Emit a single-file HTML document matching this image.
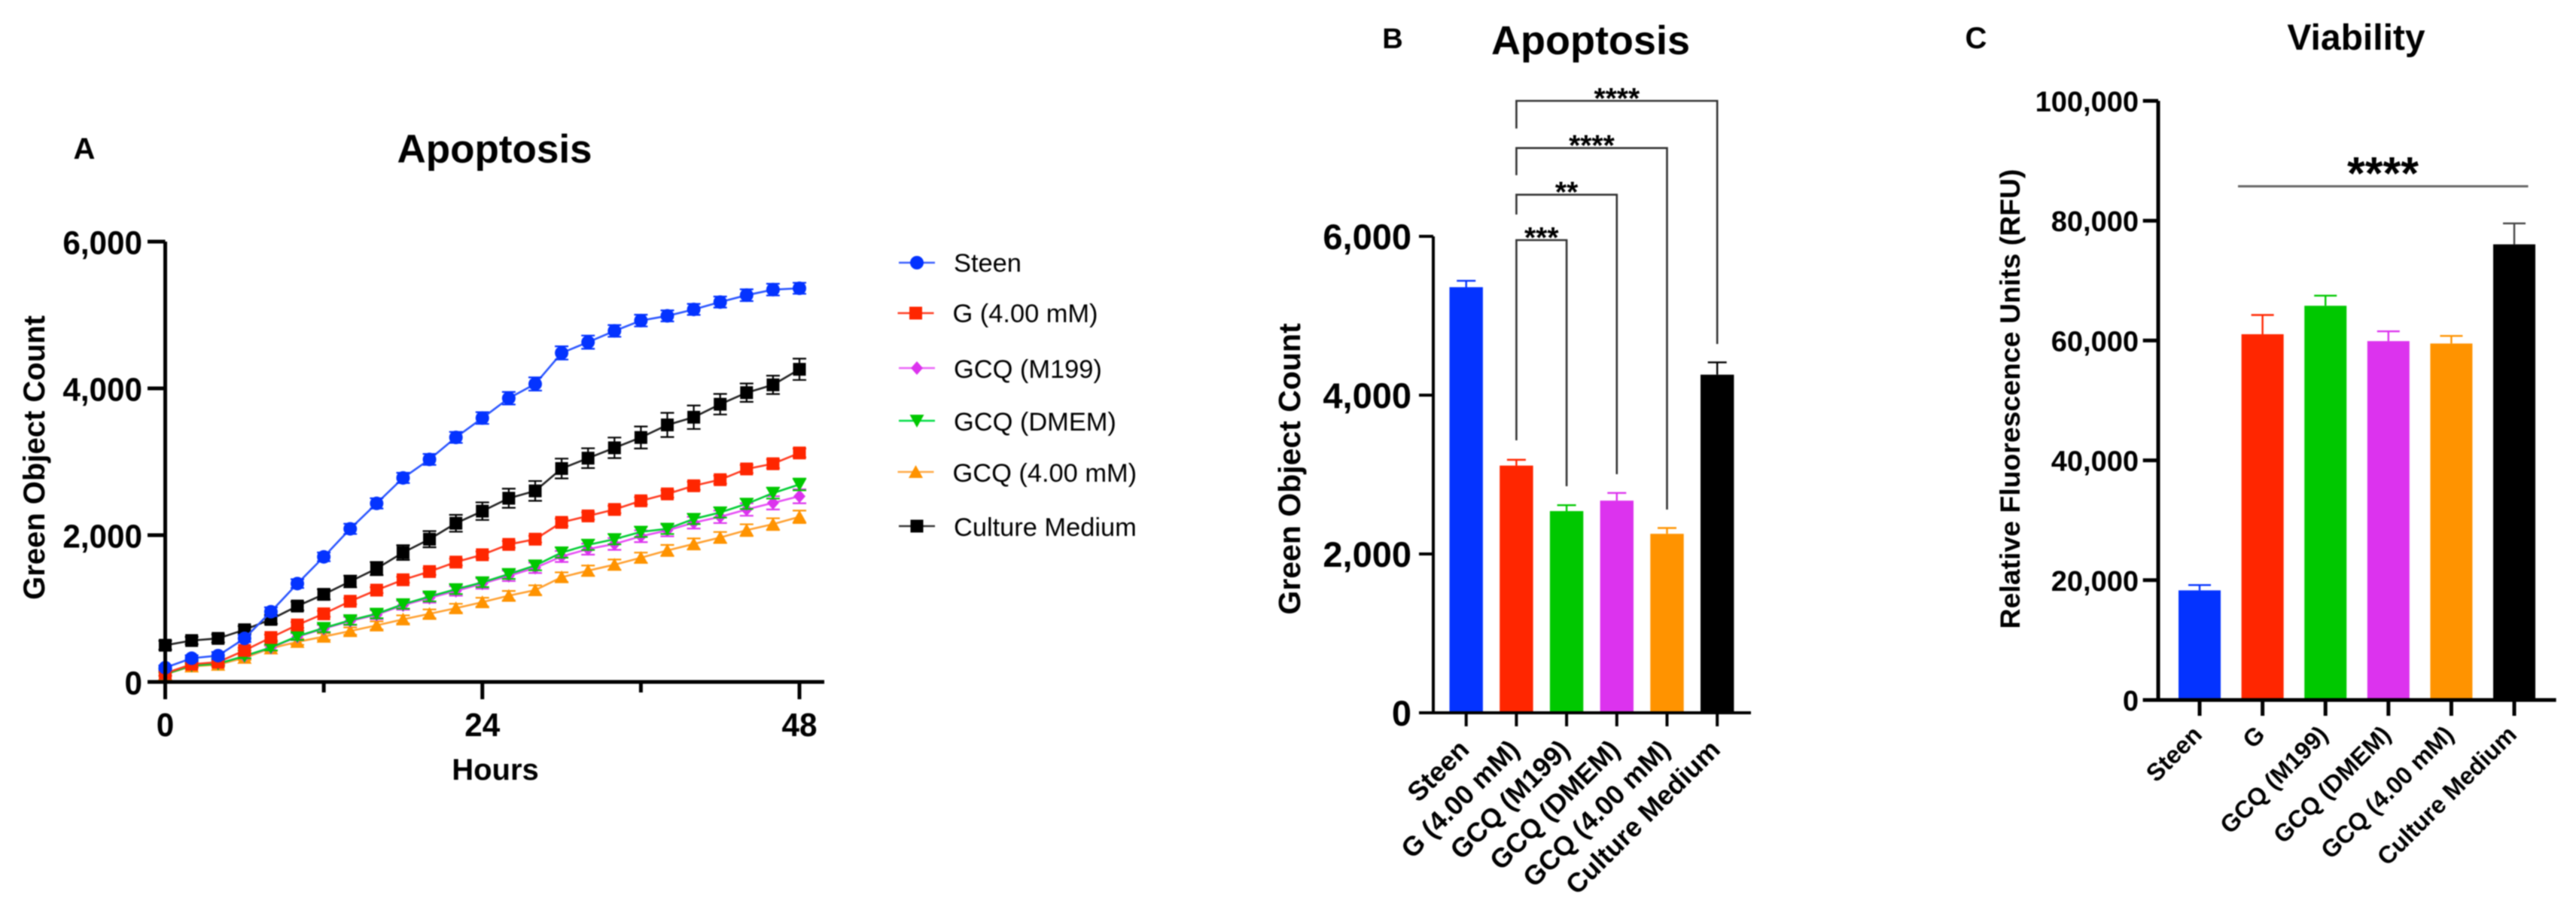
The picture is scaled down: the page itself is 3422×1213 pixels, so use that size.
<!DOCTYPE html>
<html lang="en">
<head>
<meta charset="utf-8">
<title>Apoptosis and Viability Charts</title>
<style>
html,body{margin:0;padding:0;background:#fff;width:3422px;height:1213px;overflow:hidden}
svg{display:block;filter:blur(0.7px)}
text{font-family:"Liberation Sans",Arial,sans-serif;fill:#000}
.b{font-weight:bold}
</style>
</head>
<body>
<svg id="fig" xmlns="http://www.w3.org/2000/svg" width="3422" height="1213" viewBox="0 0 3422 1213">
<rect x="0" y="0" width="3422" height="1213" fill="#fff"/>
<text class="b" x="112" y="211" font-size="40" text-anchor="middle">A</text>
<text class="b" x="657" y="216" font-size="53" text-anchor="middle">Apoptosis</text>
<text class="b" font-size="40" text-anchor="middle" transform="translate(59,608) rotate(-90)">Green Object Count</text>
<text class="b" x="658" y="1036" font-size="40" text-anchor="middle">Hours</text>
<text class="b" x="1850" y="64" font-size="38" text-anchor="middle">B</text>
<text class="b" x="2113" y="72" font-size="54" text-anchor="middle">Apoptosis</text>
<text class="b" font-size="41" text-anchor="middle" transform="translate(1727,623) rotate(-90)">Green Object Count</text>
<text class="b" x="2625" y="64" font-size="40" text-anchor="middle">C</text>
<text class="b" x="3130" y="66" font-size="48" text-anchor="middle">Viability</text>
<text class="b" font-size="37.4" text-anchor="middle" transform="translate(2683,530) rotate(-90)">Relative Fluorescence Units (RFU)</text>
<g id="panelA"></g>
<g id="legend"></g>
<g id="panelB"></g>
<g id="panelC"></g>
</svg>
<script>
// ---------- Panel A data (one reading every 2 hours, 0-48 h) ----------
const hoursA = [0,2,4,6,8,10,12,14,16,18,20,22,24,26,28,30,32,34,36,38,40,42,44,46,48];
const steenA = [194,323,358,593,957,1340,1704,2086,2433,2780,3032,3332,3596,3866,4060,4483,4630,4783,4924,4988,5076,5176,5270,5346,5364];
const steenErrA = [30,40,50,50,60,60,60,70,70,70,75,75,80,85,90,90,90,80,80,75,75,75,80,80,75];
const gA = [118,241,270,429,605,776,928,1099,1251,1392,1504,1633,1733,1874,1945,2174,2262,2350,2468,2562,2673,2756,2902,2973,3120];
const gErrA = [30,30,30,35,40,40,40,40,40,40,45,45,45,45,45,50,50,50,50,50,55,55,55,60,60];
const m199A = [110,225,250,350,465,615,725,830,915,1045,1145,1240,1340,1445,1555,1710,1810,1880,1985,2065,2170,2250,2350,2440,2530];
const m199ErrA = [20,25,25,30,35,45,50,55,60,60,65,65,70,70,70,75,75,80,80,80,80,85,85,90,95];
const dmemA = [106,223,247,353,470,623,734,840,928,1058,1163,1263,1357,1469,1586,1763,1868,1945,2045,2086,2221,2309,2427,2573,2691];
const dmemErrA = [25,25,25,30,40,50,55,60,60,60,65,65,65,65,65,70,70,70,70,70,70,70,70,75,80];
const mm4A = [106,212,235,329,458,546,617,693,770,852,928,1005,1087,1175,1251,1428,1516,1598,1692,1792,1880,1968,2068,2150,2250];
const mm4ErrA = [20,20,25,30,35,40,45,50,55,55,60,60,60,65,65,65,70,70,70,75,75,75,80,80,85];
const mediumA = [500,564,593,711,852,1034,1193,1369,1545,1763,1945,2162,2327,2503,2603,2908,3049,3190,3331,3502,3607,3784,3942,4048,4260];
const mediumErrA = [60,50,55,50,60,60,70,80,90,100,110,115,120,130,135,135,135,140,150,165,160,140,125,125,145];
const yTickLabelsA = ["0","2,000","4,000","6,000"];
const yTickValuesA = [0,2000,4000,6000];
const xMajorTicksA = [0,24,48];
const xMinorTicksA = [12,36];
const legendLabels = ["Steen","G (4.00 mM)","GCQ (M199)","GCQ (DMEM)","GCQ (4.00 mM)","Culture Medium"];

// ---------- Panel B data ----------
const categoriesB = ["Steen","G (4.00 mM)","GCQ (M199)","GCQ (DMEM)","GCQ (4.00 mM)","Culture Medium"];
const valuesB = [5360,3113,2540,2672,2254,4258];
const errorsB = [80,73,74,96,73,155];
const colorsB = ["#0433ff","#ff2600","#00c800","#dc33ee","#ff9300","#000000"];
const yTickValuesB = [0,2000,4000,6000];
const yTickLabelsB = ["0","2,000","4,000","6,000"];
const sigLabelsB = ["***","**","****","****"];
const sigTargetsB = [2,3,4,5];

// ---------- Panel C data ----------
const categoriesC = ["Steen","G","GCQ (M199)","GCQ (DMEM)","GCQ (4.00 mM)","Culture Medium"];
const valuesC = [18300,61050,65800,59900,59500,76050];
const errorsC = [880,3210,1680,1640,1260,3500];
const colorsC = ["#0433ff","#ff2600","#00c800","#dc33ee","#ff9300","#000000"];
const yTickValuesC = [0,20000,40000,60000,80000,100000];
const yTickLabelsC = ["0","20,000","40,000","60,000","80,000","100,000"];

const NS = "http://www.w3.org/2000/svg";
function add(parent, tag, attrs, txt){
  const el = document.createElementNS(NS, tag);
  for (const k in attrs) el.setAttribute(k, attrs[k]);
  if (txt !== undefined) el.textContent = txt;
  parent.appendChild(el);
  return el;
}
function markerShape(parent, kind, cx, cy, color){
  if (kind === "circle") return add(parent, "circle", {cx:cx, cy:cy, r:9, fill:color});
  if (kind === "square") return add(parent, "rect", {x:cx-8.5, y:cy-8.5, width:17, height:17, fill:color});
  if (kind === "diamond") return add(parent, "polygon", {points:[cx,cy-9,cx+8,cy,cx,cy+9,cx-8,cy].join(" "), fill:color});
  if (kind === "down") return add(parent, "polygon", {points:[cx-9.5,cy-8,cx+9.5,cy-8,cx,cy+9].join(" "), fill:color});
  return add(parent, "polygon", {points:[cx-9.5,cy+8,cx+9.5,cy+8,cx,cy-9].join(" "), fill:color});
}

// ---------- Panel A ----------
const gA_el = document.getElementById("panelA");
const xA = h => 219.5 + (h - 0) * (1062 - 219.5) / 48;
const yA = v => 906 - v * (906 - 321) / 6000;
const seriesA = [
  {name:"culture-medium", vals:mediumA, errs:mediumErrA, color:"#000000", line:"#222222", mark:"square"},
  {name:"gcq-4mm", vals:mm4A, errs:mm4ErrA, color:"#ff9300", line:"#ffa030", mark:"up"},
  {name:"gcq-m199", vals:m199A, errs:m199ErrA, color:"#dc33ee", line:"#e64df5", mark:"diamond"},
  {name:"gcq-dmem", vals:dmemA, errs:dmemErrA, color:"#00c800", line:"#00cc33", mark:"down"},
  {name:"g-4mm", vals:gA, errs:gErrA, color:"#ff2600", line:"#ff3b20", mark:"square"},
  {name:"steen", vals:steenA, errs:steenErrA, color:"#0433ff", line:"#2a55ff", mark:"circle"}
];
seriesA.forEach(function(s){
  const grp = add(gA_el, "g", {});
  
  
  const pts = hoursA.map((h,i) => xA(h).toFixed(1) + "," + yA(s.vals[i]).toFixed(1)).join(" ");
  const ln = add(grp, "polyline", {points:pts, fill:"none", stroke:s.line, "stroke-width":2.6});
  
  
  hoursA.forEach(function(h,i){
    const px = xA(h), hi = yA(s.vals[i] + s.errs[i]), lo = yA(s.vals[i] - s.errs[i]);
    const eb = add(grp, "path", {d:"M"+(px-9)+" "+hi+"H"+(px+9)+"M"+px+" "+hi+"V"+lo+"M"+(px-9)+" "+lo+"H"+(px+9), fill:"none", stroke:s.color, "stroke-width":2.2});
    
    
    const mk = markerShape(grp, s.mark, px, yA(s.vals[i]), s.color);
    
    
  });
});
const axA = add(gA_el, "path", {d:"M"+xA(0)+" "+yA(6000)+"V"+yA(0)+"M196 "+yA(0)+"H1095", fill:"none", stroke:"#000", "stroke-width":5});


yTickValuesA.forEach(function(v,i){
  const t = add(gA_el, "line", {x1:196, x2:xA(0), y1:yA(v), y2:yA(v), stroke:"#000", "stroke-width":5});
  
  
  const l = add(gA_el, "text", {"font-size":44, "font-weight":"bold", "text-anchor":"end", transform:"translate(189,"+(yA(v)+16.5)+") scale(0.96,1)"}, yTickLabelsA[i]);
  
  
});
xMajorTicksA.forEach(function(h){
  const t = add(gA_el, "line", {x1:xA(h), x2:xA(h), y1:906, y2:929, stroke:"#000", "stroke-width":5});
  
  
  const l = add(gA_el, "text", {"font-size":44, "font-weight":"bold", "text-anchor":"middle", transform:"translate("+xA(h)+",978) scale(0.96,1)"}, String(h));
  
  
});
xMinorTicksA.forEach(function(h){
  const t = add(gA_el, "line", {x1:xA(h), x2:xA(h), y1:906, y2:920, stroke:"#000", "stroke-width":5});
  
  
});

// ---------- Legend ----------
const legEl = document.getElementById("legend");
const legendKeys = [
  {color:"#0433ff", line:"#3a5fff", mark:"circle"},
  {color:"#ff2600", line:"#ff3b20", mark:"square"},
  {color:"#dc33ee", line:"#ea66f8", mark:"diamond"},
  {color:"#00c800", line:"#00dd44", mark:"down"},
  {color:"#ff9300", line:"#ffa945", mark:"up"},
  {color:"#000000", line:"#333333", mark:"square"}
];
const legendRowY = [349,416,489,559,627,699];
const legendTextY = [361,428,502,572,640,712];
legendLabels.forEach(function(lab,i){
  const k = legendKeys[i];
  const off = (i === 1 || i === 4) ? -1.5 : 0;
  const row = add(legEl, "g", {});
  
  
  add(row, "line", {x1:1194+off, x2:1242+off, y1:legendRowY[i], y2:legendRowY[i], stroke:k.line, "stroke-width":2.6});
  markerShape(row, k.mark, 1218+off, legendRowY[i], k.color);
  add(row, "text", {x:1267+off, y:legendTextY[i], "font-size":34.4}, lab);
});

// ---------- Panel B ----------
const bEl = document.getElementById("panelB");
const xB = i => 1947.7 + i * 66.7;
const yB = v => 947 - v * (947 - 314) / 6000;
categoriesB.forEach(function(c,i){
  const bar = add(bEl, "rect", {x:xB(i)-22.2, y:yB(valuesB[i]), width:44.4, height:947-yB(valuesB[i]), fill:colorsB[i]});
  
  
  const top = yB(valuesB[i]+errorsB[i]);
  const eb = add(bEl, "path", {d:"M"+xB(i)+" "+yB(valuesB[i])+"V"+top+"M"+(xB(i)-12.5)+" "+top+"H"+(xB(i)+12.5), fill:"none", stroke:colorsB[i], "stroke-width":2.4});
  
  
  const t = add(bEl, "line", {x1:xB(i), x2:xB(i), y1:947, y2:965, stroke:"#000", "stroke-width":4});
  
  
  const l = add(bEl, "text", {"font-size":36, "font-weight":"bold", "text-anchor":"end", transform:"translate("+(xB(i)+6)+",998) rotate(-45)"}, c);
  
  
});
const axB = add(bEl, "path", {d:"M1904 314V947M1885 947H2326", fill:"none", stroke:"#000", "stroke-width":4});


yTickValuesB.forEach(function(v,i){
  const t = add(bEl, "line", {x1:1885, x2:1904, y1:yB(v), y2:yB(v), stroke:"#000", "stroke-width":4});
  
  
  const l = add(bEl, "text", {x:1875, y:yB(v)+17, "font-size":47, "font-weight":"bold", "text-anchor":"end"}, yTickLabelsB[i]);
  
  
});
// Significance brackets, stacked by level above the bars
const bracketTopY = [319,258.7,196.7,134];
const bracketLeftBottomY = [585,285,232.7,170.7];
const bracketRightBottomY = [646,630,677,457];
sigLabelsB.forEach(function(s,i){
  const rx = xB(sigTargetsB[i]);
  const lx = xB(1);
  const br = add(bEl, "path", {d:"M"+lx+" "+bracketLeftBottomY[i]+"V"+bracketTopY[i]+"H"+rx+"V"+bracketRightBottomY[i], fill:"none", stroke:"#333", "stroke-width":2.6});
  
  
  const tx = add(bEl, "text", {x:(lx+rx)/2, y:bracketTopY[i]+10, "font-size":39, "font-weight":"bold", "text-anchor":"middle"}, s);
  
  
});

// ---------- Panel C ----------
const cEl = document.getElementById("panelC");
const xC = i => 2922 + i * 83.6;
const yC = v => 930 - v * (930 - 134) / 100000;
categoriesC.forEach(function(c,i){
  const bar = add(cEl, "rect", {x:xC(i)-28, y:yC(valuesC[i]), width:56, height:930-yC(valuesC[i]), fill:colorsC[i]});
  
  
  const top = yC(valuesC[i]+errorsC[i]);
  const eb = add(cEl, "path", {d:"M"+xC(i)+" "+yC(valuesC[i])+"V"+top+"M"+(xC(i)-15)+" "+top+"H"+(xC(i)+15), fill:"none", stroke:i===5?"#444":colorsC[i], "stroke-width":2.4});
  
  
  const t = add(cEl, "line", {x1:xC(i), x2:xC(i), y1:930, y2:951, stroke:"#000", "stroke-width":5});
  
  
  const l = add(cEl, "text", {"font-size":32.5, "font-weight":"bold", "text-anchor":"end", transform:"translate("+(xC(i)+5)+",978) rotate(-45)"}, c);
  
  
});
const axC = add(cEl, "path", {d:"M2867 134V930M2846.7 930H3395.6", fill:"none", stroke:"#000", "stroke-width":5});


yTickValuesC.forEach(function(v,i){
  const t = add(cEl, "line", {x1:2846.7, x2:2867, y1:yC(v), y2:yC(v), stroke:"#000", "stroke-width":5});
  
  
  const l = add(cEl, "text", {x:2841, y:yC(v)+14, "font-size":38, "font-weight":"bold", "text-anchor":"end"}, yTickLabelsC[i]);
  
  
});
const sigLine = add(cEl, "line", {x1:2973, x2:3358.5, y1:247.5, y2:247.5, stroke:"#666", "stroke-width":3});


const sigStars = add(cEl, "text", {x:3165.5, y:251, "font-size":61, "font-weight":"bold", "text-anchor":"middle"}, "****");


</script>
</body>
</html>
